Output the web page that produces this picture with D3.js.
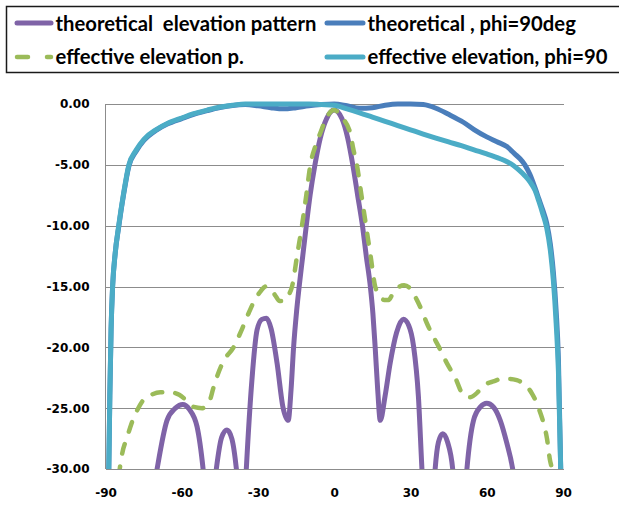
<!DOCTYPE html>
<html>
<head>
<meta charset="utf-8">
<script src="https://cdn.jsdelivr.net/npm/d3@7"></script>
<style>
  html, body { margin: 0; padding: 0; background: #fff; }
  svg { display: block; }
  .legend text { white-space: pre; }
</style>
</head>
<body>
<svg id="chart" width="619" height="505"></svg>
<script>
// ---------- data ----------
const seriesNames = [
  "theoretical  elevation pattern",
  "theoretical , phi=90deg",
  "effective elevation p.",
  "effective elevation, phi=90"
];
const seriesColors = ["#7f63a7", "#4a7ebb", "#9bbb59", "#4bacc6"];

// theoretical elevation pattern (purple)
const thElevDeg = [-90, -80, -72, -69.7, -65.8, -62.5, -59.6, -57, -54, -51.6, -49.5, -48, -46.4, -44.3, -42.2, -40.3, -38.5, -37, -35.8, -34.6, -32.4, -30.4, -28.5, -26.7, -24.8, -22.5, -20.2, -18.1, -17, -16, -14.8, -13.8, -12.4, -11, -9.5, -7.6, -5.5, -3, 0, 3, 5.3, 7.3, 9.2, 11.1, 12.6, 14.2, 15.2, 16.1, 17.1, 18.1, 20, 22, 24.5, 27.2, 29.3, 31.2, 33.1, 34.5, 35.8, 37.2, 38.5, 39.7, 41, 42.7, 44.6, 46.6, 48, 50.2, 52.2, 54.8, 57.5, 60, 62.6, 65.3, 67.8, 70.2, 72.5, 80, 90];
const thElevDb  = [-45, -40, -33, -30, -26, -25, -24.7, -25.1, -26.5, -30, -35, -33, -30, -27.4, -26.8, -27.5, -30, -33.5, -35, -30, -22.7, -18.6, -17.7, -17.6, -18.5, -21.3, -24.9, -26, -23.5, -20, -17, -15, -12.5, -10, -7.5, -5, -2.8, -1.2, -0.5, -1.2, -2.8, -5, -7.5, -10, -12.5, -15, -17.2, -20, -23.5, -26, -24, -21.3, -18.8, -17.7, -18.2, -19.9, -24, -30, -35, -38, -34, -30, -27.8, -27.1, -27.8, -30, -34, -36, -30, -26, -24.9, -24.6, -24.9, -26, -27.8, -30, -34, -40, -45];

// theoretical, phi=90deg (blue)
const thPhiDeg = [-89.6, -88.7, -88.3, -87.8, -87.2, -86.2, -84.8, -83, -80.8, -78, -74.9, -70, -65.7, -60, -55.3, -50, -45, -40, -35, -30, -25, -20, -15, -10, -5, 0, 5, 10, 15, 20, 25, 30, 35, 40, 45, 50.8, 55, 60, 64, 67.9, 71, 73.1, 75, 77, 79, 80.5, 82, 83.6, 85, 86.2, 87.3, 88.2, 89.1, 89.6];
const thPhiDb  = [-36, -30, -24, -18.5, -15, -12.3, -10.1, -7.6, -5.1, -3.9, -3.0, -2.15, -1.65, -1.2, -0.85, -0.55, -0.3, -0.12, -0.05, -0.15, -0.3, -0.4, -0.3, -0.15, -0.05, 0, -0.15, -0.35, -0.3, -0.1, 0, 0, -0.05, -0.35, -0.85, -1.5, -2.1, -2.7, -3.1, -3.5, -4.1, -4.5, -5, -5.8, -6.9, -7.8, -8.7, -9.8, -11.5, -13.8, -17, -21, -30, -36];

// effective elevation p. (green dashed)
const effElevDeg = [-90, -86, -84.4, -83.5, -81.5, -79.5, -77.6, -75, -72, -68.4, -64.5, -61, -57.5, -55.3, -52, -49.4, -47.5, -46.1, -43.5, -39.6, -36.5, -33.7, -31, -29, -27, -25, -23, -21.5, -19.9, -18.3, -16.6, -14.5, -12.7, -11, -9.4, -7.5, -5.5, -3, 0, 3, 6.3, 7.5, 8.9, 10.7, 12.5, 14.3, 16.1, 17.8, 19.6, 21.4, 23, 25, 27.5, 30, 32.5, 34.5, 36.4, 38.7, 41, 44.3, 47.6, 50.8, 53.5, 57.4, 60, 62.6, 65.9, 69, 71.8, 74, 75.7, 77.8, 79.7, 81.1, 82.3, 83.7, 84.9, 85.6, 87, 90];
const effElevDb  = [-40, -33, -30, -28.8, -27.4, -26.1, -25.2, -24.3, -23.9, -23.7, -23.7, -23.9, -24.5, -24.9, -25, -24.6, -23.3, -22.4, -21.1, -20, -18.6, -17.2, -16, -15.4, -15, -15.2, -15.8, -16.2, -16.2, -15.8, -15, -12.3, -10, -7.5, -5, -3.5, -2.4, -1.1, -0.5, -1.1, -2.4, -3.7, -5, -7.5, -10, -12.5, -15, -15.7, -16.1, -16.1, -15.6, -15.1, -14.9, -15.2, -16.1, -17, -18, -19, -19.9, -21.3, -22.5, -23.9, -24.1, -23.5, -23, -22.8, -22.6, -22.6, -22.7, -22.9, -23.2, -23.8, -24.6, -25.4, -26.2, -27.5, -29.3, -30, -34, -40];

// effective elevation, phi=90 (cyan)
const effPhiDeg = [-89.6, -88.7, -88.3, -87.8, -87.2, -86.2, -84.8, -83, -80.8, -78, -74.9, -70, -65.7, -60, -55.3, -50, -45, -40, -35, -30, -25, -20, -15, -10, -5, 0, 5, 10, 15, 20, 25, 30, 35, 40, 45, 50, 55, 60, 65.3, 68, 70.5, 72.5, 75, 77, 79, 80.5, 82, 83.6, 85, 86.2, 87.3, 88.2, 89.1, 89.6];
const effPhiDb  = [-36, -30, -24, -18.5, -15, -12.3, -10, -7.5, -5, -3.8, -2.9, -2.1, -1.6, -1.15, -0.8, -0.5, -0.25, -0.1, 0, 0, 0, 0, 0, 0, -0.05, -0.1, -0.4, -0.72, -1.07, -1.42, -1.77, -2.12, -2.47, -2.8, -3.12, -3.43, -3.77, -4.1, -4.5, -4.75, -5.05, -5.4, -5.9, -6.4, -7.1, -8, -9, -10.2, -12, -14.5, -18, -22, -30, -36];

const xTicks = [-90, -60, -30, 0, 30, 60, 90];
const xTickLabels = ["-90", "-60", "-30", "0", "30", "60", "90"];
const yTicks = [0, -5, -10, -15, -20, -25, -30];
const yTickLabels = ["0.00", "-5.00", "-10.00", "-15.00", "-20.00", "-25.00", "-30.00"];

const series = [
  { deg: thElevDeg, db: thElevDb },
  { deg: thPhiDeg, db: thPhiDb },
  { deg: effElevDeg, db: effElevDb },
  { deg: effPhiDeg, db: effPhiDb }
];

// ---------- layout ----------
const svg = d3.select("#chart");
const plotLeft = 105.5, plotRight = 563.5, plotTop = 104, plotBottom = 469;
const x = d3.scaleLinear().domain([-90, 90]).range([plotLeft, 563]);
const y = d3.scaleLinear().domain([-30, 0]).range([plotBottom, plotTop]);

const gridColor = "#8c8c8c";
const labelFont = "'DejaVu Sans', Verdana, sans-serif";

// gridlines
svg.append("g")
  .attr("transform", `translate(${plotLeft},0)`)
  .call(d3.axisLeft(y).tickValues(yTicks).tickSize(-(plotRight - plotLeft)).tickFormat(""))
  .call(g => g.select(".domain").remove())
  .call(g => g.selectAll("line").attr("stroke", gridColor).attr("stroke-width", 1)
    .attr("shape-rendering", "crispEdges"));

// left axis line
svg.append("line")
  .attr("x1", plotLeft).attr("x2", plotLeft).attr("y1", plotTop).attr("y2", plotBottom)
  .attr("stroke", gridColor).attr("stroke-width", 1).attr("shape-rendering", "crispEdges");

// y labels
svg.append("g")
  .attr("transform", `translate(${plotLeft},0)`)
  .call(d3.axisLeft(y).tickValues(yTicks).tickSize(0).tickPadding(16)
    .tickFormat((d, i) => yTickLabels[i]))
  .call(g => g.select(".domain").remove())
  .call(g => g.selectAll("text")
    .attr("font-family", labelFont).attr("font-weight", "bold")
    .attr("font-size", 12).attr("fill", "#000"));

// x labels
svg.append("g")
  .attr("transform", `translate(0,${plotBottom})`)
  .call(d3.axisBottom(x).tickValues(xTicks).tickSize(0).tickPadding(19.5)
    .tickFormat((d, i) => xTickLabels[i]))
  .call(g => g.select(".domain").remove())
  .call(g => g.selectAll("text")
    .attr("font-family", labelFont).attr("font-weight", "bold")
    .attr("font-size", 12).attr("fill", "#000"));

// clip
svg.append("clipPath").attr("id", "plotClip")
  .append("rect").attr("x", 95).attr("y", 90).attr("width", 480).attr("height", plotBottom - 90);

const line = d3.line()
  .x(d => x(d[0])).y(d => y(d[1]))
  .curve(d3.curveMonotoneX);

const plot = svg.append("g").attr("clip-path", "url(#plotClip)");
series.forEach((s, i) => {
  const pts = s.deg.map((d, j) => [d, s.db[j]]);
  const p = plot.append("path")
    .attr("d", line(pts))
    .attr("fill", "none")
    .attr("stroke", seriesColors[i])
    .attr("stroke-width", i === 2 ? 4.5 : 5)
    .attr("stroke-linejoin", "round")
    .attr("stroke-linecap", "round");
  if (i === 2) p.attr("stroke-dasharray", "10,13");
});

// ---------- legend ----------
const lg = svg.append("g").attr("class", "legend");
lg.append("rect")
  .attr("x", 6.5).attr("y", 6.5).attr("width", 650).attr("height", 66)
  .attr("fill", "#fff").attr("stroke", "#1a1a1a").attr("stroke-width", 1.5);

const legendPos = [
  { lx1: 15, lx2: 53, tx: 55.5, ly: 23, ty: 30.5 },
  { lx1: 325, lx2: 365, tx: 367.5, ly: 23, ty: 30.5 },
  { lx1: 15, lx2: 53, tx: 55.5, ly: 57, ty: 63.5 },
  { lx1: 325, lx2: 365, tx: 367.5, ly: 57, ty: 63.5 }
];
const legendFont = "Lato, 'Open Sans', sans-serif";
const texts = [];
seriesNames.forEach((name, i) => {
  const p = legendPos[i];
  const l = lg.append("line")
    .attr("x1", p.lx1 + 2).attr("x2", p.lx2 - 2).attr("y1", p.ly).attr("y2", p.ly)
    .attr("stroke", seriesColors[i]).attr("stroke-width", i === 2 ? 4.5 : 5)
    .attr("stroke-linecap", "round");
  if (i === 2) l.attr("stroke-dasharray", "11,19");
  texts.push(lg.append("text")
    .attr("x", p.tx).attr("y", p.ty)
    .attr("font-family", legendFont).attr("font-weight", "bold")
    .attr("font-size", 18).attr("fill", "#000")
    .text(name));
});
// fit legend font so that first label spans the same width as the reference
const w0 = texts[0].node().getComputedTextLength();
const fs = 18 * 261 / w0;
texts.forEach(t => t.attr("font-size", fs));
</script>
</body>
</html>
